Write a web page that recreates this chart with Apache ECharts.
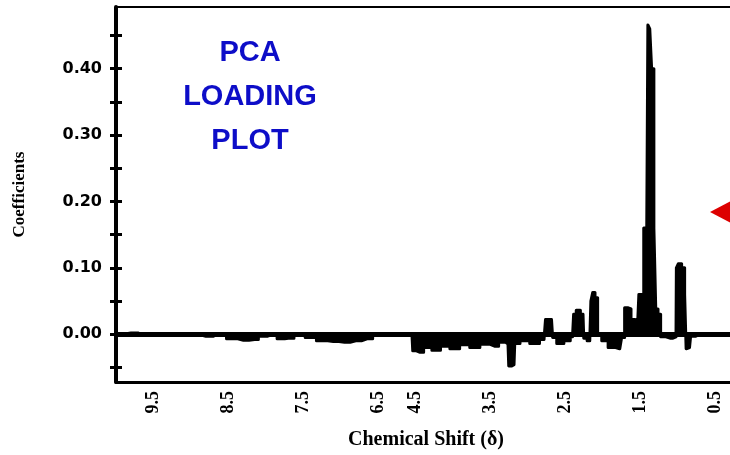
<!DOCTYPE html>
<html><head><meta charset="utf-8">
<script src="https://cdn.jsdelivr.net/npm/echarts@6/dist/echarts.min.js"></script>
<style>html,body{margin:0;padding:0;background:#fff}#c{width:730px;height:455px}</style>
</head><body><div id="c"></div>
<script>
// Aromatic region (left panel), chemical shift in ppm and loading coefficient
const aromaticPpm  = [10.0, 9.8, 9.6, 9.4, 9.2, 9.0, 8.8, 8.6, 8.45, 8.3, 8.15, 8.05, 7.9, 7.8, 7.7, 7.55, 7.4, 7.25, 7.1, 6.95, 6.8, 6.65, 6.5, 6.35, 6.25];
const aromaticCoef = [0, 0.002, -0.002, 0.001, -0.002, 0, -0.003, 0.001, -0.007, -0.009, -0.008, -0.003, 0, -0.007, -0.006, 0.001, -0.005, -0.010, -0.011, -0.012, -0.010, -0.007, -0.001, 0.001, 0];
// Aliphatic region (right panel)
const aliphaticPpm  = [4.75, 4.65, 4.55, 4.53, 4.45, 4.34, 4.23, 4.11, 3.98, 3.85, 3.71, 3.58, 3.45, 3.34, 3.27, 3.25, 3.19, 3.17, 3.05, 2.91, 2.79, 2.75, 2.69, 2.66, 2.58, 2.47, 2.41, 2.38, 2.34, 2.27, 2.25, 2.18, 2.15, 2.13, 2.09, 2.06, 1.98, 1.89, 1.78, 1.73, 1.70, 1.65, 1.61, 1.54, 1.51, 1.47, 1.45, 1.42, 1.39, 1.37, 1.34, 1.31, 1.29, 1.25, 1.22, 1.11, 1.03, 1.02, 0.98, 0.93, 0.90, 0.89, 0.85, 0.82, 0.71, 0.51, 0.31];
const aliphaticCoef = [0, 0, -0.002, -0.025, -0.027, -0.020, -0.024, -0.018, -0.022, -0.016, -0.020, -0.015, -0.018, -0.012, -0.015, -0.048, -0.046, -0.014, -0.010, -0.014, -0.008, 0.022, 0.022, -0.005, -0.014, -0.010, -0.004, 0.030, 0.036, 0.030, -0.006, -0.010, 0.050, 0.063, 0.055, 0, -0.010, -0.020, -0.022, -0.005, 0.040, 0.038, 0.022, 0.020, 0.060, 0.060, 0.160, 0.160, 0.466, 0.460, 0.400, 0.160, 0.038, 0.030, -0.004, -0.006, -0.004, 0.100, 0.106, 0.100, 0.060, -0.022, -0.020, -0.003, 0, 0.001, 0];

const yTickLabels = [0, 0.1, 0.2, 0.3, 0.4];
const yTickMarks = [-0.05, 0, 0.05, 0.1, 0.15, 0.2, 0.25, 0.3, 0.35, 0.4, 0.45];
const xLabelsLeft = [9.5, 8.5, 7.5, 6.5];
const xLabelsRight = [4.5, 3.5, 2.5, 1.5, 0.5];
const titleLines = ['PCA', 'LOADING', 'PLOT'];
const xName = 'Chemical Shift (δ)';
const yName = 'Coefficients';

const Y_MIN = -0.072, Y_MAX = 0.493;
function quarterTicks(a, b) { const r = []; for (let v = Math.ceil(a * 4) / 4; v <= b + 1e-9; v += 0.25) r.push(+v.toFixed(2)); return r; }

const chart = echarts.init(document.getElementById('c'), null, {renderer: 'canvas'});
const serifBold = {fontFamily: 'Liberation Serif', fontWeight: 'bold', color: '#000'};

function xAxisFor(gi, min, max, labels) {
  return [{
    type: 'value', gridIndex: gi, inverse: true, min: min, max: max, position: 'bottom',
    axisLine: {show: true, onZero: false, lineStyle: {color: '#000', width: 3}},
    axisTick: {show: true, length: 2, lineStyle: {color: '#000', width: 1}, customValues: quarterTicks(min, max)},
    axisLabel: {show: true, rotate: 90, margin: 9, fontSize: 18, ...serifBold, customValues: labels, formatter: v => v.toFixed(1)},
    splitLine: {show: false}
  }, {
    type: 'value', gridIndex: gi, inverse: true, min: min, max: max, position: 'top',
    axisLine: {show: true, onZero: false, lineStyle: {color: '#000', width: 2}},
    axisTick: {show: false}, axisLabel: {show: false}, splitLine: {show: false}
  }];
}

function seriesFor(gi, xs, ys) {
  return {
    type: 'line', xAxisIndex: gi * 2, yAxisIndex: gi === 0 ? 0 : 2,
    data: xs.map((p, i) => [p, ys[i]]), step: 'middle', symbol: 'none', silent: true,
    lineStyle: {color: '#000', width: 3, join: 'round'}, areaStyle: {color: '#000', opacity: 1},
    markLine: {silent: true, symbol: 'none', label: {show: false}, lineStyle: {color: '#000', width: 5, type: 'solid'}, data: [{yAxis: 0}]},
    z: 3
  };
}

const option = {
  animation: false,
  backgroundColor: '#fff',
  grid: [
    {left: 116, right: 333, top: 7, bottom: 73, outerBoundsMode: 'none'},
    {left: 397, right: 0, top: 7, bottom: 73, outerBoundsMode: 'none'}
  ],
  xAxis: [
    ...xAxisFor(0, 6.25, 10.0, xLabelsLeft),
    ...xAxisFor(1, 0.31, 4.75, xLabelsRight)
  ],
  yAxis: [
    {type: 'value', gridIndex: 0, min: Y_MIN, max: Y_MAX, position: 'left',
     name: yName, nameLocation: 'middle', nameRotate: 90, nameGap: 88,
     nameTextStyle: {fontSize: 17, ...serifBold},
     axisLine: {show: true, onZero: false, lineStyle: {color: '#000', width: 4}},
     axisTick: {show: true, inside: false, length: 6, lineStyle: {color: '#000', width: 3}, customValues: yTickMarks},
     axisLabel: {show: true, margin: 14, fontSize: 16, fontFamily: 'DejaVu Sans', fontWeight: 'bold', color: '#000', customValues: yTickLabels, formatter: v => v.toFixed(2)},
     splitLine: {show: false}},
    {type: 'value', gridIndex: 0, min: Y_MIN, max: Y_MAX, position: 'left', offset: 0,
     axisLine: {show: false},
     axisTick: {show: true, inside: true, length: 6, lineStyle: {color: '#000', width: 3}, customValues: yTickMarks},
     axisLabel: {show: false}, splitLine: {show: false}},
    {type: 'value', gridIndex: 1, min: Y_MIN, max: Y_MAX, show: false, splitLine: {show: false}}
  ],
  series: [
    seriesFor(0, aromaticPpm, aromaticCoef),
    seriesFor(1, aliphaticPpm, aliphaticCoef)
  ],
  graphic: [
    {type: 'text', silent: true, style: {x: 250, y: 97, text: titleLines.join('\n'), textAlign: 'center', textVerticalAlign: 'middle',
      fontFamily: 'Liberation Sans', fontWeight: 'bold', fontSize: 29, lineHeight: 44, fill: '#0d0dc8'}},
    {type: 'text', silent: true, style: {x: 426, y: 440, text: xName, textAlign: 'center', textVerticalAlign: 'middle',
      fontFamily: 'Liberation Serif', fontWeight: 'bold', fontSize: 20, fill: '#000'}},
    {type: 'polygon', silent: true, shape: {points: [[710, 212], [731, 201], [731, 223]]}, style: {fill: '#dd0000'}}
  ]
};
chart.setOption(option);
</script>
</body></html>
